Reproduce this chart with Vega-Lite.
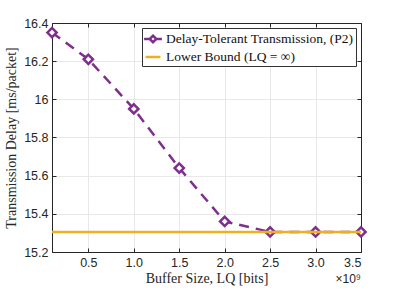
{
  "$schema": "https://vega.github.io/schema/vega-lite/v6.json",
  "width": 309,
  "height": 229,
  "autosize": {"type": "none"},
  "padding": {"left": 52, "top": 23, "right": 38, "bottom": 39},
  "background": "white",
  "config": {
    "view": {"stroke": "#262626", "strokeWidth": 1},
    "axis": {
      "labelFont": "Liberation Sans",
      "labelFontSize": 12.5,
      "labelColor": "#262626",
      "titleFont": "Liberation Serif",
      "titleFontSize": 14,
      "titleFontWeight": "normal",
      "titleColor": "#262626",
      "domainColor": "#262626",
      "tickColor": "#262626",
      "gridColor": "#e8e8e8",
      "gridOpacity": 1
    },
    "legend": {
      "labelFont": "Liberation Serif",
      "labelFontSize": 13.5,
      "labelColor": "#111111",
      "labelLimit": 400
    }
  },
  "datasets": {
    "p2": [
      {"x": 0.1, "y": 16.35, "s": "P2"},
      {"x": 0.5, "y": 16.21, "s": "P2"},
      {"x": 1.0, "y": 15.95, "s": "P2"},
      {"x": 1.5, "y": 15.64, "s": "P2"},
      {"x": 2.0, "y": 15.36, "s": "P2"},
      {"x": 2.5, "y": 15.305, "s": "P2"},
      {"x": 3.0, "y": 15.305, "s": "P2"},
      {"x": 3.5, "y": 15.305, "s": "P2"}
    ],
    "lb": [
      {"x": 0.1, "y": 15.305, "s": "LB"},
      {"x": 3.5, "y": 15.305, "s": "LB"}
    ]
  },
  "resolve": {"axis": {"x": "independent", "y": "independent"}},
  "layer": [
    {
      "data": {"name": "p2"},
      "mark": {"type": "line", "strokeWidth": 2.5, "strokeDash": [10, 7]},
      "encoding": {
        "x": {
          "field": "x", "type": "quantitative",
          "scale": {"domain": [0.1, 3.5], "nice": false, "zero": false},
          "axis": {
            "orient": "bottom",
            "values": [0.5, 1, 1.5, 2, 2.5, 3, 3.5],
            "title": "Buffer Size, LQ [bits]",
            "titlePadding": 3,
            "tickSize": -4,
            "labelPadding": 8,
            "grid": true
          }
        },
        "y": {
          "field": "y", "type": "quantitative",
          "scale": {"domain": [15.2, 16.4], "nice": false, "zero": false},
          "axis": {
            "orient": "left",
            "values": [15.2, 15.4, 15.6, 15.8, 16, 16.2, 16.4],
            "format": "~g",
            "title": "Transmission Delay [ms/packet]",
            "titlePadding": 5,
            "tickSize": -4,
            "labelPadding": 8,
            "grid": true
          }
        },
        "color": {
          "field": "s", "type": "nominal",
          "scale": {"domain": ["P2", "LB"], "range": ["#7E2F8E", "#EDB120"]},
          "legend": {
            "title": null,
            "orient": "top-right",
            "offset": 5,
            "labelExpr": "datum.value === 'P2' ? 'Delay-Tolerant Transmission, (P2)' : 'Lower Bound (LQ = ∞)'",
            "strokeColor": "#333333",
            "fillColor": "white",
            "padding": 2,
            "rowPadding": 0,
            "labelOffset": 4,
            "symbolStrokeWidth": 2.5,
            "symbolSize": 220,
            "encode": {
              "symbols": {
                "update": {
                  "shape": {"signal": "datum.value === 'P2' ? 'M-1.2,0H-0.45M0.45,0H1.2M0,-0.45L0.45,0L0,0.45L-0.45,0Z' : 'stroke'"},
                  "fill": {"value": "transparent"}
                }
              }
            }
          }
        }
      }
    },
    {
      "data": {"name": "p2"},
      "mark": {"type": "point", "shape": "diamond", "filled": false, "fill": "white", "strokeWidth": 2.5, "size": 85, "opacity": 1},
      "encoding": {
        "x": {"field": "x", "type": "quantitative", "axis": null},
        "y": {"field": "y", "type": "quantitative", "axis": null},
        "color": {"field": "s", "type": "nominal", "legend": null}
      }
    },
    {
      "data": {"name": "lb"},
      "mark": {"type": "line", "strokeWidth": 2.5},
      "encoding": {
        "x": {
          "field": "x", "type": "quantitative",
          "axis": {"orient": "top", "values": [0.5, 1, 1.5, 2, 2.5, 3, 3.5], "labels": false, "title": null, "tickSize": -4, "grid": false}
        },
        "y": {
          "field": "y", "type": "quantitative",
          "axis": {"orient": "right", "values": [15.2, 15.4, 15.6, 15.8, 16, 16.2, 16.4], "labels": false, "title": null, "tickSize": -4, "grid": false}
        },
        "color": {"field": "s", "type": "nominal", "legend": null}
      }
    },
    {
      "data": {"values": [{"t": "×10⁹"}]},
      "mark": {"type": "text", "align": "right", "baseline": "middle", "dy": 27, "font": "Liberation Sans", "fontSize": 12, "color": "#262626"},
      "encoding": {
        "x": {"datum": 3.5, "type": "quantitative", "axis": null},
        "y": {"datum": 15.2, "type": "quantitative", "axis": null},
        "text": {"field": "t"}
      }
    }
  ]
}
